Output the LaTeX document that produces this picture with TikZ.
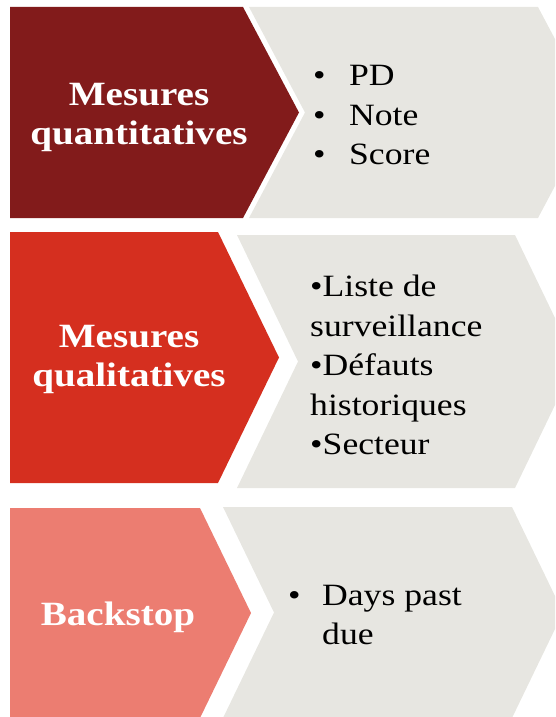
\documentclass[tikz,border=0pt]{standalone}
\usepackage{fontspec}
\setmainfont{Liberation Serif}[FakeStretch=1.15]
\definecolor{dunkelrot}{HTML}{821B1B}
\definecolor{rot}{HTML}{D52F1F}
\definecolor{lachs}{HTML}{EC7D71}
\definecolor{hellgrau}{HTML}{E7E6E1}
\newcommand{\listpunkt}[1][36pt]{\makebox[#1][l]{•}}

\begin{document}
\begin{tikzpicture}[x=1pt, y=-1pt,
	titel/.style={anchor=north, inner sep=0pt, align=center, text=white, font=\bfseries\fontsize{34}{39}\selectfont},
	liste/.style={anchor=north west, inner sep=0pt, align=left, font=\fontsize{31}{39.5}\selectfont}]
	\clip (0,0) rectangle (555,717);

	%% Mesures quantitatives
	\fill[dunkelrot] (10,7) -- (243,7) -- (299,112.5) -- (243,218) -- (10,218) -- cycle;
	\fill[hellgrau] (249,7) -- (538,7) -- (594,112.5) -- (538,218) -- (249,218) -- (305,112.5) -- cycle;
	\node[titel] (quanti) at (139,83) {Mesures\\quantitatives};
	\node[liste] (quantiListe) at (313,65.5) {\listpunkt PD\\\listpunkt Note\\\listpunkt Score};

	%% Mesures qualitatives
	\fill[rot] (10,232) -- (218,232) -- (279,357.5) -- (218,483) -- (10,483) -- cycle;
	\fill[hellgrau] (237,235) -- (515,235) -- (576,361.5) -- (515,488) -- (237,488) -- (298,361.5) -- cycle;
	\node[titel] (quali) at (129,325) {Mesures\\qualitatives};
	\node[liste] (qualiListe) at (310,275) {•Liste de\\surveillance\\•Défauts\\historiques\\•Secteur};

	%% Backstop
	\fill[lachs] (10,508) -- (200,508) -- (251,613) -- (200,718) -- (10,718) -- cycle;
	\fill[hellgrau] (223,507) -- (512,507) -- (563,612.5) -- (512,718) -- (223,718) -- (274,612.5) -- cycle;
	\node[titel] (backstop) at (118,601.5) {Backstop};
	\node[liste] (backstopListe) at (288,584.5) {\listpunkt[34pt]Days past\\\hspace*{34pt}due};
\end{tikzpicture}
\end{document}
